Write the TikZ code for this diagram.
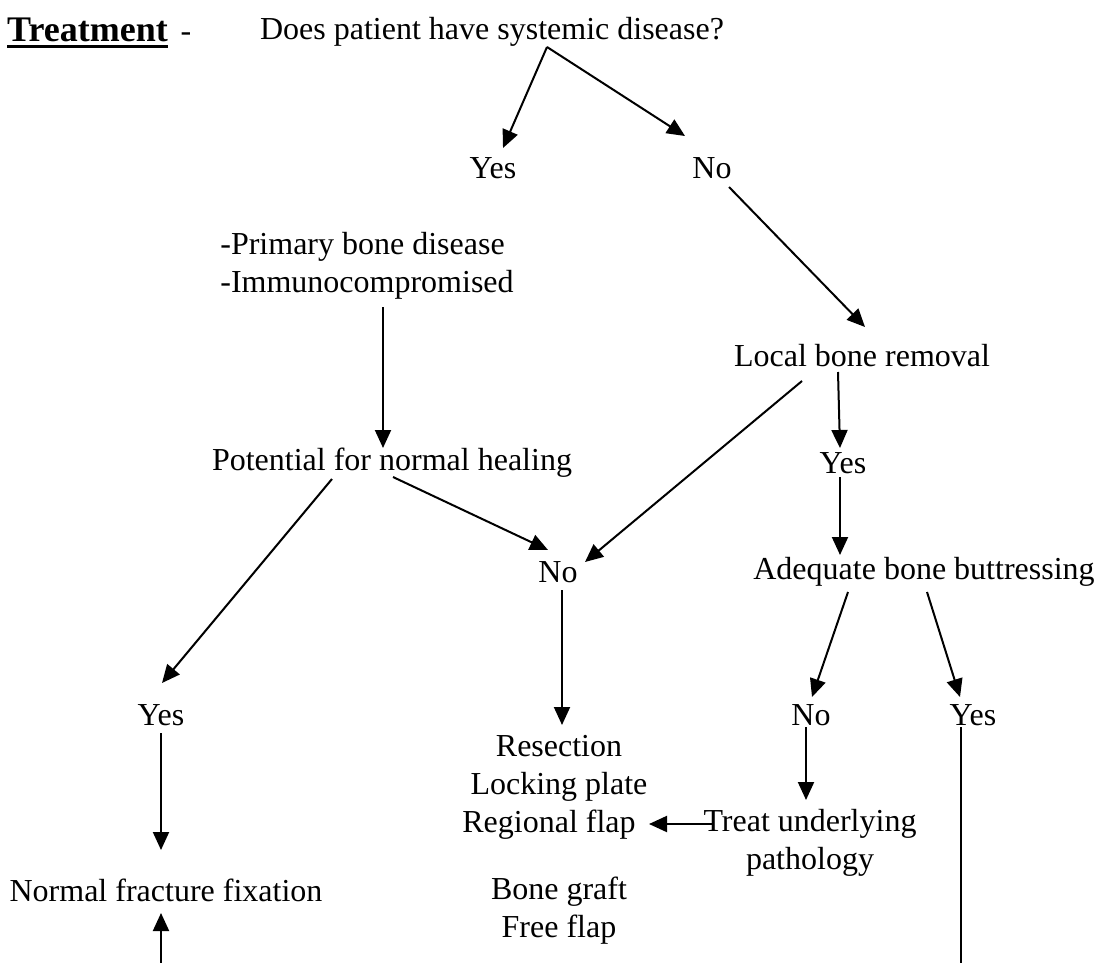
\documentclass[tikz,border=0pt]{standalone}
\usepackage{fontspec}
\setmainfont{Liberation Serif}
\usetikzlibrary{arrows.meta}

\begin{document}
\begin{tikzpicture}[
    x=1pt, y=-1pt,
    lbl/.style = {inner sep=0pt, align=center, font=\fontsize{32}{38}\selectfont},
    arrow/.style = {-{Triangle[length=18pt, width=16pt]}, line width=2pt},
    link/.style = {line width=2pt}
]
    \useasboundingbox (0,0) rectangle (1097,963);

    % heading
    \node[lbl, anchor=base west, font=\fontsize{36}{42}\selectfont\bfseries] (TITLE) at (7,42) {Treatment};
    \node[lbl, anchor=base] (DASH) at (186,42) {-};
    \node[lbl] (Q) at (492,32) {Does patient have systemic disease?};
    \draw[line width=3pt] ([yshift=-5pt]TITLE.base west) -- ([yshift=-5pt]TITLE.base east);

    % decision nodes
    \node[lbl] (YES1) at (493,168) {Yes};
    \node[lbl] (NO1) at (712,168) {No};
    \node[lbl, align=left] (COND) at (367,266) {-Primary bone disease\\-Immunocompromised};
    \node[lbl] (LOC) at (862,356) {Local bone removal};
    \node[lbl] (HEAL) at (392,463) {Potential for normal healing};
    \node[lbl] (YES2) at (843,463) {Yes};
    \node[lbl] (NO2) at (558,572) {No};
    \node[lbl] (BUT) at (924,572) {Adequate bone buttressing};
    \node[lbl] (YES3) at (161,715) {Yes};
    \node[lbl] (NO3) at (811,715) {No};
    \node[lbl] (YES4) at (973,715) {Yes};

    % outcomes
    \node[lbl] (RES) at (559,787) {Resection\\Locking plate\\Regional flap\hspace*{20pt}};
    \node[lbl] (TREAT) at (810,843) {Treat underlying\\pathology};
    \node[lbl] (FIX) at (166,890) {Normal fracture fixation};
    \node[lbl] (GRAFT) at (559,911) {Bone graft\\Free flap};
    \coordinate (FIXIN) at (161,963);
    \coordinate (YESOUT) at (961,963);

    % connectors
    \draw[arrow] ([shift={(55,15)}]Q.center) -- ([shift={(10,-20)}]YES1.center);
    \draw[arrow] ([shift={(55,15)}]Q.center) -- ([shift={(-27,-32)}]NO1.center);
    \draw[arrow] ([shift={(17,19)}]NO1.center) -- ([shift={(3,-29)}]LOC.center);
    \draw[arrow] ([shift={(16,41)}]COND.center) -- ([shift={(-9,-15)}]HEAL.center);
    \draw[arrow] ([shift={(-24,16)}]LOC.center) -- ([shift={(-3,-15)}]YES2.center);
    \draw[arrow] ([shift={(-60,25)}]LOC.center) -- ([shift={(27,-10)}]NO2.center);
    \draw[arrow] ([shift={(1,14)}]HEAL.center) -- ([shift={(-10,-22)}]NO2.center);
    \draw[arrow] ([shift={(-60,16)}]HEAL.center) -- ([shift={(1,-32)}]YES3.center);
    \draw[arrow] ([shift={(-3,14)}]YES2.center) -- ([shift={(-84,-17)}]BUT.center);
    \draw[arrow] ([shift={(4,18)}]NO2.center) -- ([shift={(3,-62)}]RES.center);
    \draw[arrow] ([shift={(-76,20)}]BUT.center) -- ([shift={(1,-18)}]NO3.center);
    \draw[arrow] ([shift={(3,20)}]BUT.center) -- ([shift={(-13,-18)}]YES4.center);
    \draw[arrow] ([shift={(0,18)}]YES3.center) -- ([shift={(-5,-40)}]FIX.center);
    \draw[arrow] ([shift={(-5,12)}]NO3.center) -- ([shift={(-4,-43)}]TREAT.center);
    \draw[arrow] ([shift={(-98,-19)}]TREAT.center) -- ([shift={(90,37)}]RES.center);
    \draw[link] ([shift={(-12,12)}]YES4.center) -- (YESOUT);
    \draw[arrow] (FIXIN) -- ([shift={(-5,23)}]FIX.center);
\end{tikzpicture}
\end{document}
